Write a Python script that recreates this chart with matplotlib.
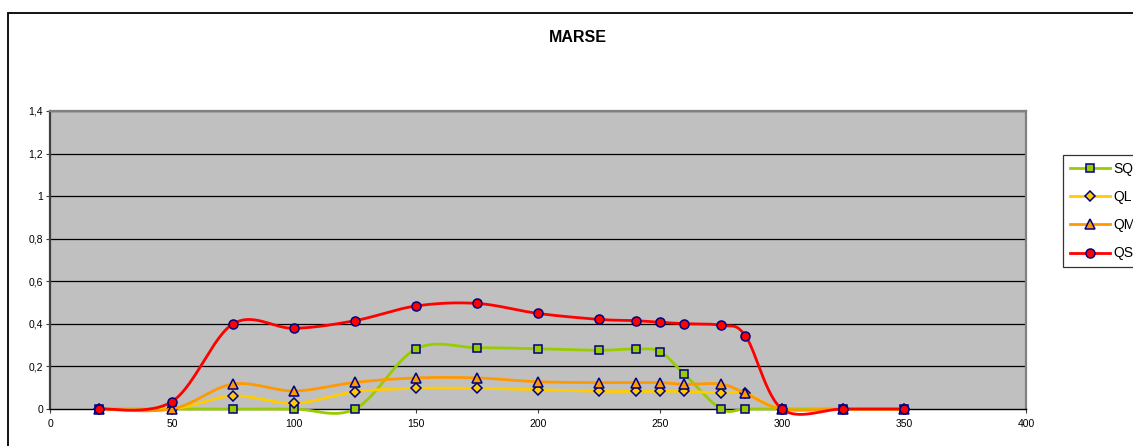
import numpy as np
import matplotlib
matplotlib.use("Agg")
import matplotlib.pyplot as plt
from matplotlib.patches import Rectangle
from matplotlib.lines import Line2D

plt.rcParams['font.family'] = ['Liberation Sans', 'DejaVu Sans']

title = "MARSE"
x = [20, 50, 75, 100, 125, 150, 175, 200, 225, 240, 250, 260, 275, 285, 300, 325, 350]
series_names = ["SQ", "QL", "QM", "QS"]
SQ = [0, 0, 0, 0, 0, 0.282, 0.288, 0.283, 0.276, 0.282, 0.269, 0.163, 0, 0, 0, 0, 0]
QL = [0, 0, 0.061, 0.027, 0.081, 0.097, 0.097, 0.091, 0.083, 0.083, 0.083, 0.083, 0.075, 0.074, 0, 0, 0]
QM = [0, 0, 0.117, 0.085, 0.125, 0.146, 0.146, 0.128, 0.124, 0.124, 0.124, 0.116, 0.117, 0.074, 0, 0, 0]
QS = [0, 0.035, 0.400, 0.379, 0.415, 0.484, 0.496, 0.449, 0.421, 0.415, 0.407, 0.401, 0.393, 0.344, 0, 0, 0]
x_ticks = [0, 50, 100, 150, 200, 250, 300, 350, 400]
y_ticks = [0, 0.2, 0.4, 0.6, 0.8, 1.0, 1.2, 1.4]
y_tick_labels = ["0", "0,2", "0,4", "0,6", "0,8", "1", "1,2", "1,4"]

styles = {
    "SQ": dict(color="#99CC00", marker="s", mfc="#99CC00"),
    "QL": dict(color="#FFCC00", marker="D", mfc="#FFCC00"),
    "QM": dict(color="#FF9900", marker="^", mfc="#FF9900"),
    "QS": dict(color="#FF0000", marker="o", mfc="#FF0000"),
}
msizes = {"SQ": 6, "QL": 5, "QM": 7, "QS": 6.5}

W, H = 1133, 446
fig = plt.figure(figsize=(W / 100, H / 100), dpi=100)
fig.patch.set_facecolor("white")

# outer chart frame
fig.patches.append(Rectangle((8 / W, -0.2), 1.2, (1 - 13 / H) + 0.2,
                             transform=fig.transFigure, fill=False,
                             ec="black", lw=1.3))

left, right, top, bottom = 50, 1026, 111, 409
ax = fig.add_axes([left / W, 1 - bottom / H, (right - left) / W, (bottom - top) / H])
ax.set_facecolor("#C0C0C0")
ax.set_xlim(0, 400)
ax.set_ylim(0, 1.4)

px_x = (right - left) / 400.0
px_y = (bottom - top) / 1.4


def smooth(xv, yv, n=30):
    P = np.column_stack([np.asarray(xv, float) * px_x, np.asarray(yv, float) * px_y])
    out = [P[0]]
    m = len(P)
    for i in range(m - 1):
        p0 = P[i - 1] if i > 0 else P[i]
        p1 = P[i]
        p2 = P[i + 1]
        p3 = P[i + 2] if i + 2 < m else P[i + 1]
        c1 = p1 + (p2 - p0) / 6.0
        c2 = p2 - (p3 - p1) / 6.0
        t = np.linspace(0, 1, n)[1:, None]
        seg = ((1 - t) ** 3) * p1 + 3 * ((1 - t) ** 2) * t * c1 + 3 * (1 - t) * t ** 2 * c2 + t ** 3 * p2
        out.extend(seg)
    out = np.array(out)
    return out[:, 0] / px_x, out[:, 1] / px_y


for yv in y_ticks[1:]:
    ax.axhline(yv, color="black", lw=0.9, zorder=1)

data = {"SQ": SQ, "QL": QL, "QM": QM, "QS": QS}
z = 3
for name in series_names:
    st = styles[name]
    sx, sy = smooth(x, data[name])
    ax.plot(sx, sy, color=st["color"], lw=2.0, zorder=z, clip_on=False, solid_capstyle="round")
    ax.plot(x, data[name], ls="none", marker=st["marker"], ms=msizes[name],
            mfc=st["mfc"], mec="#000080", mew=1.1, zorder=z + 0.5, clip_on=False)
    z += 1

for s in ["top", "right"]:
    ax.spines[s].set_color("#808080")
    ax.spines[s].set_linewidth(1.6)
ax.spines["left"].set_color("#404040")
ax.spines["left"].set_linewidth(1.6)
ax.spines["bottom"].set_color("black")
ax.spines["bottom"].set_linewidth(1.0)

ax.set_xticks(x_ticks)
ax.set_xticklabels([str(t) for t in x_ticks])
ax.set_yticks(y_ticks)
ax.set_yticklabels(y_tick_labels)
ax.tick_params(axis="both", length=3, width=0.8, color="#404040", direction="out")
ax.tick_params(axis="x", pad=4, labelsize=7.5)
ax.tick_params(axis="y", pad=2, labelsize=7.5)

fig.text(578 / W, 1 - 37 / H, title, ha="center", va="center", fontsize=11.5, fontweight="bold")

handles = []
for name in series_names:
    st = styles[name]
    handles.append(Line2D([0], [0], color=st["color"], lw=2.0, marker=st["marker"],
                          ms=msizes[name], mfc=st["mfc"], mec="#000080", mew=1.1))
leg = fig.legend(handles, series_names, loc="upper left",
                 bbox_to_anchor=(1063 / W, 1 - 155 / H), bbox_transform=fig.transFigure,
                 frameon=True, fancybox=False, fontsize=10, handlelength=2.9,
                 labelspacing=1.02, borderpad=0.5, handletextpad=0.25, borderaxespad=0)
leg.get_frame().set_edgecolor("black")
leg.get_frame().set_linewidth(0.9)

fig.savefig("out.png", dpi=100)
